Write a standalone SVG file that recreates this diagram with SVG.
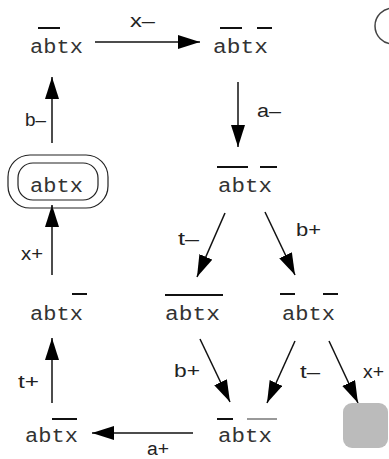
<svg xmlns="http://www.w3.org/2000/svg" width="389" height="459" viewBox="0 0 389 459">
<style>
.st{font-family:"Liberation Mono","Courier New",monospace;font-size:20px;fill:#333}
.lb{font-family:"Liberation Sans",Arial,sans-serif;font-size:18px;fill:#222}
.ol{stroke:#111;stroke-width:2}
.og{stroke:#999;stroke-width:2}
.ar{stroke:#111;stroke-width:1.5;fill:none;marker-end:url(#ah)}
</style>
<defs>
<marker id="ah" markerUnits="userSpaceOnUse" markerWidth="24" markerHeight="16" refX="22" refY="7" orient="auto">
<path d="M0,0 L22,7 L0,14 Z" fill="#000"/>
</marker>
</defs>
<rect width="389" height="459" fill="#fff"/>
<circle cx="393" cy="26" r="18" fill="none" stroke="#444" stroke-width="1.5"/>
<g id="connectors">
<path class="ar" d="M95,42 L200,42"/>
<path class="ar" d="M238,82 L238,147"/>
<path class="ar" d="M225,213 L197,277"/>
<path class="ar" d="M265,212 L295,275"/>
<path class="ar" d="M200,339 L230,402"/>
<path class="ar" d="M295,341 L267,403"/>
<path class="ar" d="M329,341 L358,403"/>
<path class="ar" d="M193,433 L92,433"/>
<path class="ar" d="M52,403 L52,338"/>
<path class="ar" d="M52,275 L52,205"/>
<path class="ar" d="M52,143 L52,77"/>
<text class="lb" x="130" y="27" textLength="25" lengthAdjust="spacingAndGlyphs">x–</text>
<text class="lb" x="257" y="117" textLength="24" lengthAdjust="spacingAndGlyphs">a–</text>
<text class="lb" x="178" y="245" textLength="21" lengthAdjust="spacingAndGlyphs">t–</text>
<text class="lb" x="296" y="236" textLength="25" lengthAdjust="spacingAndGlyphs">b+</text>
<text class="lb" x="25" y="126" textLength="21" lengthAdjust="spacingAndGlyphs">b–</text>
<text class="lb" x="21" y="260" textLength="22" lengthAdjust="spacingAndGlyphs">x+</text>
<text class="lb" x="18" y="388" textLength="21" lengthAdjust="spacingAndGlyphs">t+</text>
<text class="lb" x="147" y="455" textLength="22" lengthAdjust="spacingAndGlyphs">a+</text>
<text class="lb" x="174" y="377" textLength="26" lengthAdjust="spacingAndGlyphs">b+</text>
<text class="lb" x="300" y="378" textLength="20" lengthAdjust="spacingAndGlyphs">t–</text>
<text class="lb" x="363" y="378" textLength="21" lengthAdjust="spacingAndGlyphs">x+</text>
</g>
<g id="nA">
<line class="ol" x1="38" y1="28" x2="60" y2="28"/>
<text class="st" x="30" y="53" textLength="53" lengthAdjust="spacingAndGlyphs">abtx</text>
</g>
<g id="nB">
<line class="ol" x1="220" y1="28" x2="242" y2="28"/>
<line class="ol" x1="257" y1="28" x2="272" y2="28"/>
<text class="st" x="213" y="53" textLength="55" lengthAdjust="spacingAndGlyphs">abtx</text>
</g>
<g id="nC">
<line class="ol" x1="217" y1="167" x2="248" y2="167"/>
<line class="ol" x1="260" y1="167" x2="277" y2="167"/>
<text class="st" x="218" y="192" textLength="54" lengthAdjust="spacingAndGlyphs">abtx</text>
</g>
<g id="nD">
<line class="ol" x1="165" y1="295" x2="223" y2="295"/>
<text class="st" x="165" y="320" textLength="55" lengthAdjust="spacingAndGlyphs">abtx</text>
</g>
<g id="nE">
<line class="ol" x1="280" y1="294" x2="295" y2="294"/>
<line class="ol" x1="323" y1="294" x2="338" y2="294"/>
<text class="st" x="282" y="320" textLength="53" lengthAdjust="spacingAndGlyphs">abtx</text>
</g>
<g id="nF">
<line class="ol" x1="72" y1="294" x2="87" y2="294"/>
<text class="st" x="30" y="320" textLength="53" lengthAdjust="spacingAndGlyphs">abtx</text>
</g>
<g id="nG">
<rect x="8" y="155" width="100" height="53" rx="22" fill="none" stroke="#222" stroke-width="1.2"/>
<rect x="18" y="163" width="80" height="37" rx="15" fill="none" stroke="#222" stroke-width="1.2"/>
<text class="st" x="30" y="192" textLength="53" lengthAdjust="spacingAndGlyphs">abtx</text>
</g>
<g id="nH">
<line class="ol" x1="52" y1="419" x2="77" y2="419"/>
<text class="st" x="25" y="442" textLength="53" lengthAdjust="spacingAndGlyphs">abtx</text>
</g>
<g id="nI">
<line class="ol" x1="217" y1="419" x2="233" y2="419"/>
<line class="og" x1="247" y1="419" x2="277" y2="419"/>
<text class="st" x="218" y="442" textLength="54" lengthAdjust="spacingAndGlyphs">abtx</text>
</g>
<g id="nJ">
<rect x="343" y="403" width="45" height="45" rx="9" fill="#bbb"/>
</g>
</svg>
